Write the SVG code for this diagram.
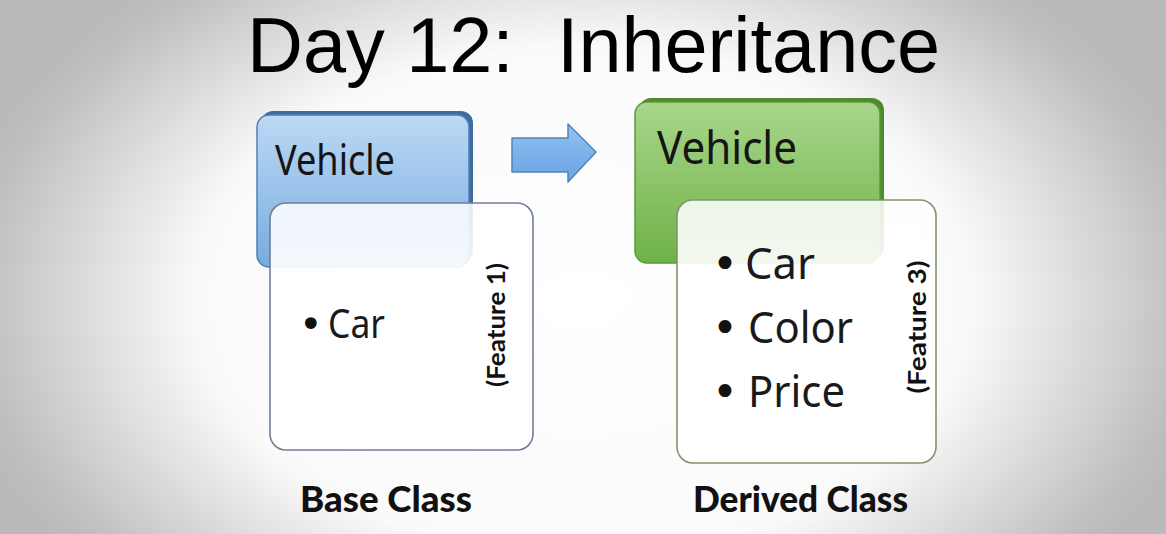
<svg xmlns="http://www.w3.org/2000/svg" width="1166" height="534" viewBox="0 0 1166 534">
<defs>
<radialGradient id="bg" gradientUnits="userSpaceOnUse" cx="583" cy="300" r="640" gradientTransform="translate(583 300) scale(1 0.66) translate(-583 -300)">
<stop offset="0" stop-color="#ffffff"/>
<stop offset="0.6" stop-color="#fafafa"/>
<stop offset="0.95" stop-color="#bebebe"/>
<stop offset="1" stop-color="#bababa"/>
</radialGradient>
<linearGradient id="blue" x1="0" y1="0" x2="0" y2="1">
<stop offset="0" stop-color="#bcd9f4"/>
<stop offset="1" stop-color="#78abe0"/>
</linearGradient>
<linearGradient id="green" x1="0" y1="0" x2="0" y2="1">
<stop offset="0" stop-color="#a9d68c"/>
<stop offset="1" stop-color="#6eb246"/>
</linearGradient>
<linearGradient id="arrow" x1="0" y1="0" x2="0" y2="1">
<stop offset="0" stop-color="#8fc2f2"/>
<stop offset="1" stop-color="#6aa3e4"/>
</linearGradient>
<linearGradient id="cardfill" x1="0" y1="0" x2="0" y2="1">
<stop offset="0" stop-color="#ffffff" stop-opacity="0.86"/>
<stop offset="0.3" stop-color="#ffffff" stop-opacity="0.92"/>
<stop offset="1" stop-color="#ffffff" stop-opacity="1"/>
</linearGradient>
</defs>
<style>
.box-label{font-family:"Noto Sans","Open Sans",sans-serif;fill:#151515}
.item{font-family:"Noto Sans","Open Sans",sans-serif;fill:#1a1a1a}
.bullet{font-family:"DejaVu Sans",sans-serif;fill:#111}
.feat{font-family:"Lato","Liberation Sans",sans-serif;font-weight:bold;fill:#111}
.cap{font-family:"Lato","Liberation Sans",sans-serif;font-weight:900;fill:#111}
.card{fill:url(#cardfill);stroke-width:1.6}
</style>
<rect x="0" y="0" width="1166" height="534" fill="url(#bg)"/>
<text x="247" y="72" font-family="Liberation Sans, Arial, sans-serif" font-size="78" fill="#000" textLength="693" lengthAdjust="spacingAndGlyphs" style="white-space:pre">Day 12:  Inheritance</text>

<g id="base-class">
<rect x="261" y="111" width="212" height="152" rx="12" fill="#3f6c9c"/>
<rect x="257" y="115" width="212" height="152" rx="12" fill="url(#blue)" stroke="#4d80b8" stroke-width="1.5"/>
<text class="box-label" x="275" y="175" font-size="42" textLength="120" lengthAdjust="spacingAndGlyphs">Vehicle</text>
<rect class="card" x="270" y="203" width="263" height="247" rx="16" stroke="#6f7f95"/>
<text class="item" y="338" font-size="40"><tspan class="bullet" x="299">•</tspan><tspan x="328" textLength="57" lengthAdjust="spacingAndGlyphs">Car</tspan></text>
<text class="feat" transform="translate(495 325) rotate(-90)" text-anchor="middle" dominant-baseline="central" font-size="24" textLength="124" lengthAdjust="spacingAndGlyphs">(Feature 1)</text>
<text class="cap" x="300" y="512" font-size="36" textLength="172" lengthAdjust="spacingAndGlyphs">Base Class</text>
</g>

<g id="connectors">
<path d="M512,138 H568 V124 L596,152 L568,182 V172 H512 Z" fill="url(#arrow)" stroke="#5383b8" stroke-width="1.5" stroke-linejoin="round"/>
</g>

<g id="derived-class">
<rect x="639" y="98" width="245" height="161" rx="12" fill="#4f8a30"/>
<rect x="635" y="102" width="245" height="161" rx="12" fill="url(#green)" stroke="#5a9a38" stroke-width="1.5"/>
<text class="box-label" x="657" y="164" font-size="46" textLength="140" lengthAdjust="spacingAndGlyphs">Vehicle</text>
<rect class="card" x="677" y="200" width="259" height="263" rx="16" stroke="#7f9470"/>
<text class="item" y="279" font-size="44"><tspan class="bullet" x="712">•</tspan><tspan x="745" textLength="70" lengthAdjust="spacingAndGlyphs">Car</tspan></text>
<text class="item" y="343" font-size="44"><tspan class="bullet" x="712">•</tspan><tspan x="748" textLength="105" lengthAdjust="spacingAndGlyphs">Color</tspan></text>
<text class="item" y="407" font-size="44"><tspan class="bullet" x="712">•</tspan><tspan x="748" textLength="97" lengthAdjust="spacingAndGlyphs">Price</tspan></text>
<text class="feat" transform="translate(916 327) rotate(-90)" text-anchor="middle" dominant-baseline="central" font-size="24" textLength="133" lengthAdjust="spacingAndGlyphs">(Feature 3)</text>
<text class="cap" x="693" y="512" font-size="36" textLength="215" lengthAdjust="spacingAndGlyphs">Derived Class</text>
</g>
</svg>
